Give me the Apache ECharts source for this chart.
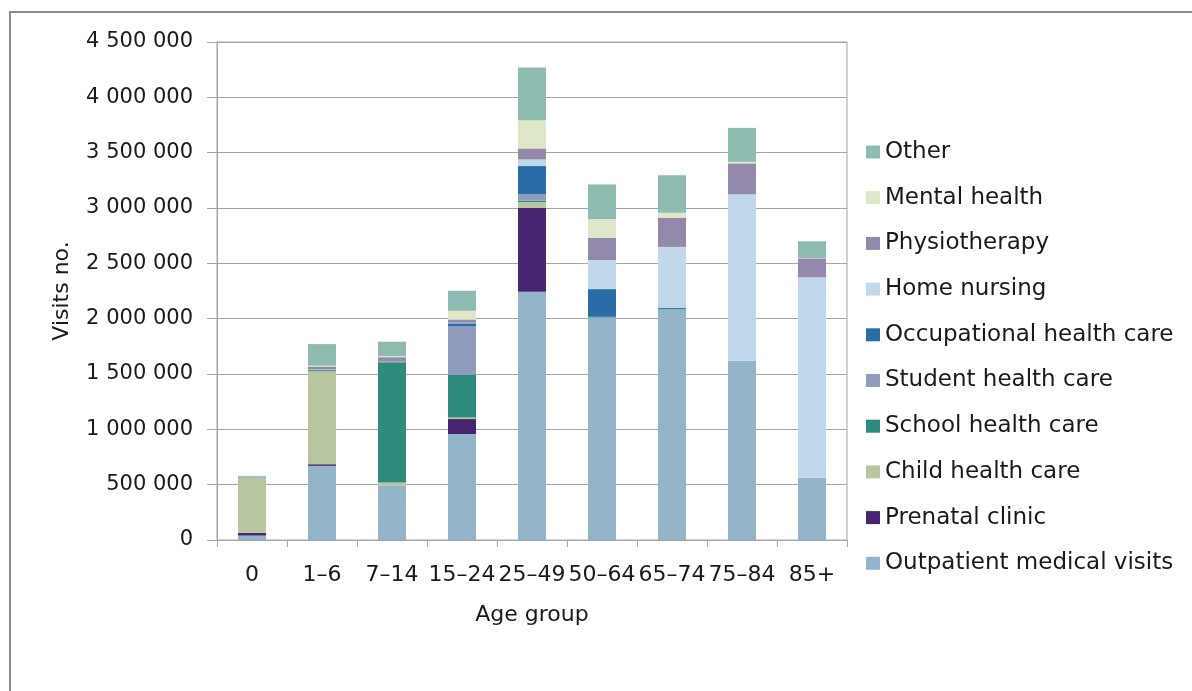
<!DOCTYPE html>
<html>
<head>
<meta charset="utf-8">
<script src="https://cdn.jsdelivr.net/npm/echarts@6/dist/echarts.min.js"></script>
<style>
html,body{margin:0;padding:0;background:#fff;}
#chart{width:1192px;height:691px;}
</style>
</head>
<body>
<div id="chart"></div>
<script>
const categories = ['0', '1–6', '7–14', '15–24', '25–49', '50–64', '65–74', '75–84', '85+'];
const outpatient   = [40000, 670000, 495000, 958000, 2244000, 2010000, 2087000, 1620000, 563000];
const prenatal     = [25000, 15000, 0, 135000, 756000, 0, 0, 0, 0];
const childHealth  = [495000, 840000, 25000, 15000, 54000, 0, 0, 0, 0];
const schoolHealth = [3000, 10000, 1087000, 382000, 12000, 7000, 10000, 0, 0];
const studentHealth = [5000, 5000, 5000, 443000, 57000, 0, 0, 0, 0];
const occupational = [0, 0, 0, 25000, 256000, 250000, 0, 0, 0];
const homeNursing  = [0, 2000, 0, 5000, 60000, 262000, 551000, 1503000, 1810000];
const physio       = [2000, 25000, 40000, 30000, 99000, 202000, 265000, 280000, 172000];
const mentalHealth = [2000, 8000, 10000, 78000, 256000, 169000, 45000, 14000, 3000];
const other        = [8000, 195000, 130000, 181000, 476000, 313000, 337000, 307000, 151000];

const seriesDefs = [
  ['Outpatient medical visits', outpatient, '#94b4c9'],
  ['Prenatal clinic', prenatal, '#46246e'],
  ['Child health care', childHealth, '#b7c6a0'],
  ['School health care', schoolHealth, '#2e8a7b'],
  ['Student health care', studentHealth, '#919bbd'],
  ['Occupational health care', occupational, '#2a6ca6'],
  ['Home nursing', homeNursing, '#c0d9ea'],
  ['Physiotherapy', physio, '#9489aa'],
  ['Mental health', mentalHealth, '#dde8c9'],
  ['Other', other, '#8dbbb1']
];

const FONT = 'DejaVu Sans';
const chart = echarts.init(document.getElementById('chart'), null, {renderer: 'canvas'});
const fmt = v => String(v).replace(/\B(?=(\d{3})+(?!\d))/g, ' ');

chart.setOption({
  animation: false,
  backgroundColor: '#fff',
  textStyle: {fontFamily: FONT},
  graphic: [{
    type: 'rect',
    shape: {x: 10, y: 12, width: 1200, height: 700},
    style: {fill: 'none', stroke: '#8c8c8c', lineWidth: 2},
    silent: true
  }],
  grid: {
    left: 217, right: 345, top: 42, bottom: 151,
    show: true, borderColor: '#a6a6a6', borderWidth: 1,
    containLabel: false
  },
  legend: {
    orient: 'vertical',
    left: 861, top: 135,
    itemWidth: 14, itemHeight: 13,
    itemGap: 21.7,
    icon: 'rect',
    data: seriesDefs.map(d => d[0]).reverse(),
    textStyle: {fontFamily: FONT, fontSize: 23, color: '#1a1a1a', lineHeight: 24}
  },
  xAxis: {
    type: 'category',
    data: categories,
    name: 'Age group',
    nameLocation: 'middle',
    nameGap: 64,
    nameTextStyle: {fontFamily: FONT, fontSize: 22, color: '#1a1a1a'},
    axisLine: {lineStyle: {color: '#a6a6a6', width: 1}},
    axisTick: {show: true, alignWithLabel: false, length: 7, lineStyle: {color: '#a6a6a6'}},
    axisLabel: {fontFamily: FONT, fontSize: 22, color: '#1a1a1a', margin: 24, interval: 0}
  },
  yAxis: {
    type: 'value',
    min: 0, max: 4500000, interval: 500000,
    name: 'Visits no.',
    nameLocation: 'middle',
    nameGap: 144,
    nameRotate: 90,
    nameTextStyle: {fontFamily: FONT, fontSize: 22, color: '#1a1a1a'},
    axisLine: {show: true, lineStyle: {color: '#a6a6a6', width: 1}},
    axisTick: {show: true, length: 10, lineStyle: {color: '#a6a6a6'}},
    axisLabel: {fontFamily: FONT, fontSize: 21, color: '#1a1a1a', margin: 24, formatter: fmt},
    splitLine: {lineStyle: {color: '#a6a6a6', width: 1}}
  },
  series: seriesDefs.map(d => ({
    name: d[0],
    type: 'bar',
    stack: 'total',
    data: d[1],
    barWidth: '40%',
    itemStyle: {color: d[2]}
  }))
});
</script>
</body>
</html>
